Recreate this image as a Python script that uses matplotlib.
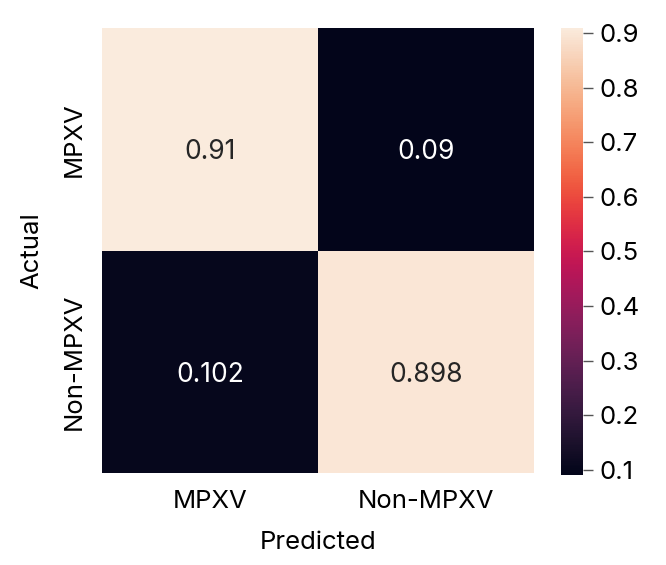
import numpy as np
import matplotlib
matplotlib.use("Agg")
import matplotlib.pyplot as plt
import seaborn as sns

# confusion matrix values (normalised)
labels = ["MPXV", "Non-MPXV"]
cm = np.array([[0.91, 0.09],
               [0.102, 0.898]])
annot = [["0.91", "0.09"],
         ["0.102", "0.898"]]
cbar_ticks = [0.1, 0.2, 0.3, 0.4, 0.5, 0.6, 0.7, 0.8, 0.9]

plt.rcParams['font.family'] = ['Inter', 'DejaVu Sans']
plt.rcParams['font.size'] = 18.5

fig = plt.figure(figsize=(6.66, 5.65), dpi=100)
ax = fig.add_axes([102/666, 1 - 473/565, 432/666, 445/565])
cax = fig.add_axes([561/666, 1 - 475/565, 22/666, 447/565])

sns.heatmap(cm, annot=annot, fmt="", cmap="rocket", ax=ax, cbar_ax=cax,
            xticklabels=labels, yticklabels=labels,
            annot_kws={"size": 19, "va": "top"})
ax.tick_params(length=0, pad=12)
ax.set_xlabel("Predicted", labelpad=13)
ax.set_ylabel("Actual", labelpad=14)
cax.tick_params(length=7, width=1, color="#555555", pad=5)
cax.set_yticks(cbar_ticks)
cax.set_yticklabels([f"{t:.1f}" for t in cbar_ticks])
for s in cax.spines.values():
    s.set_visible(False)

fig.savefig("out.png", dpi=100)
